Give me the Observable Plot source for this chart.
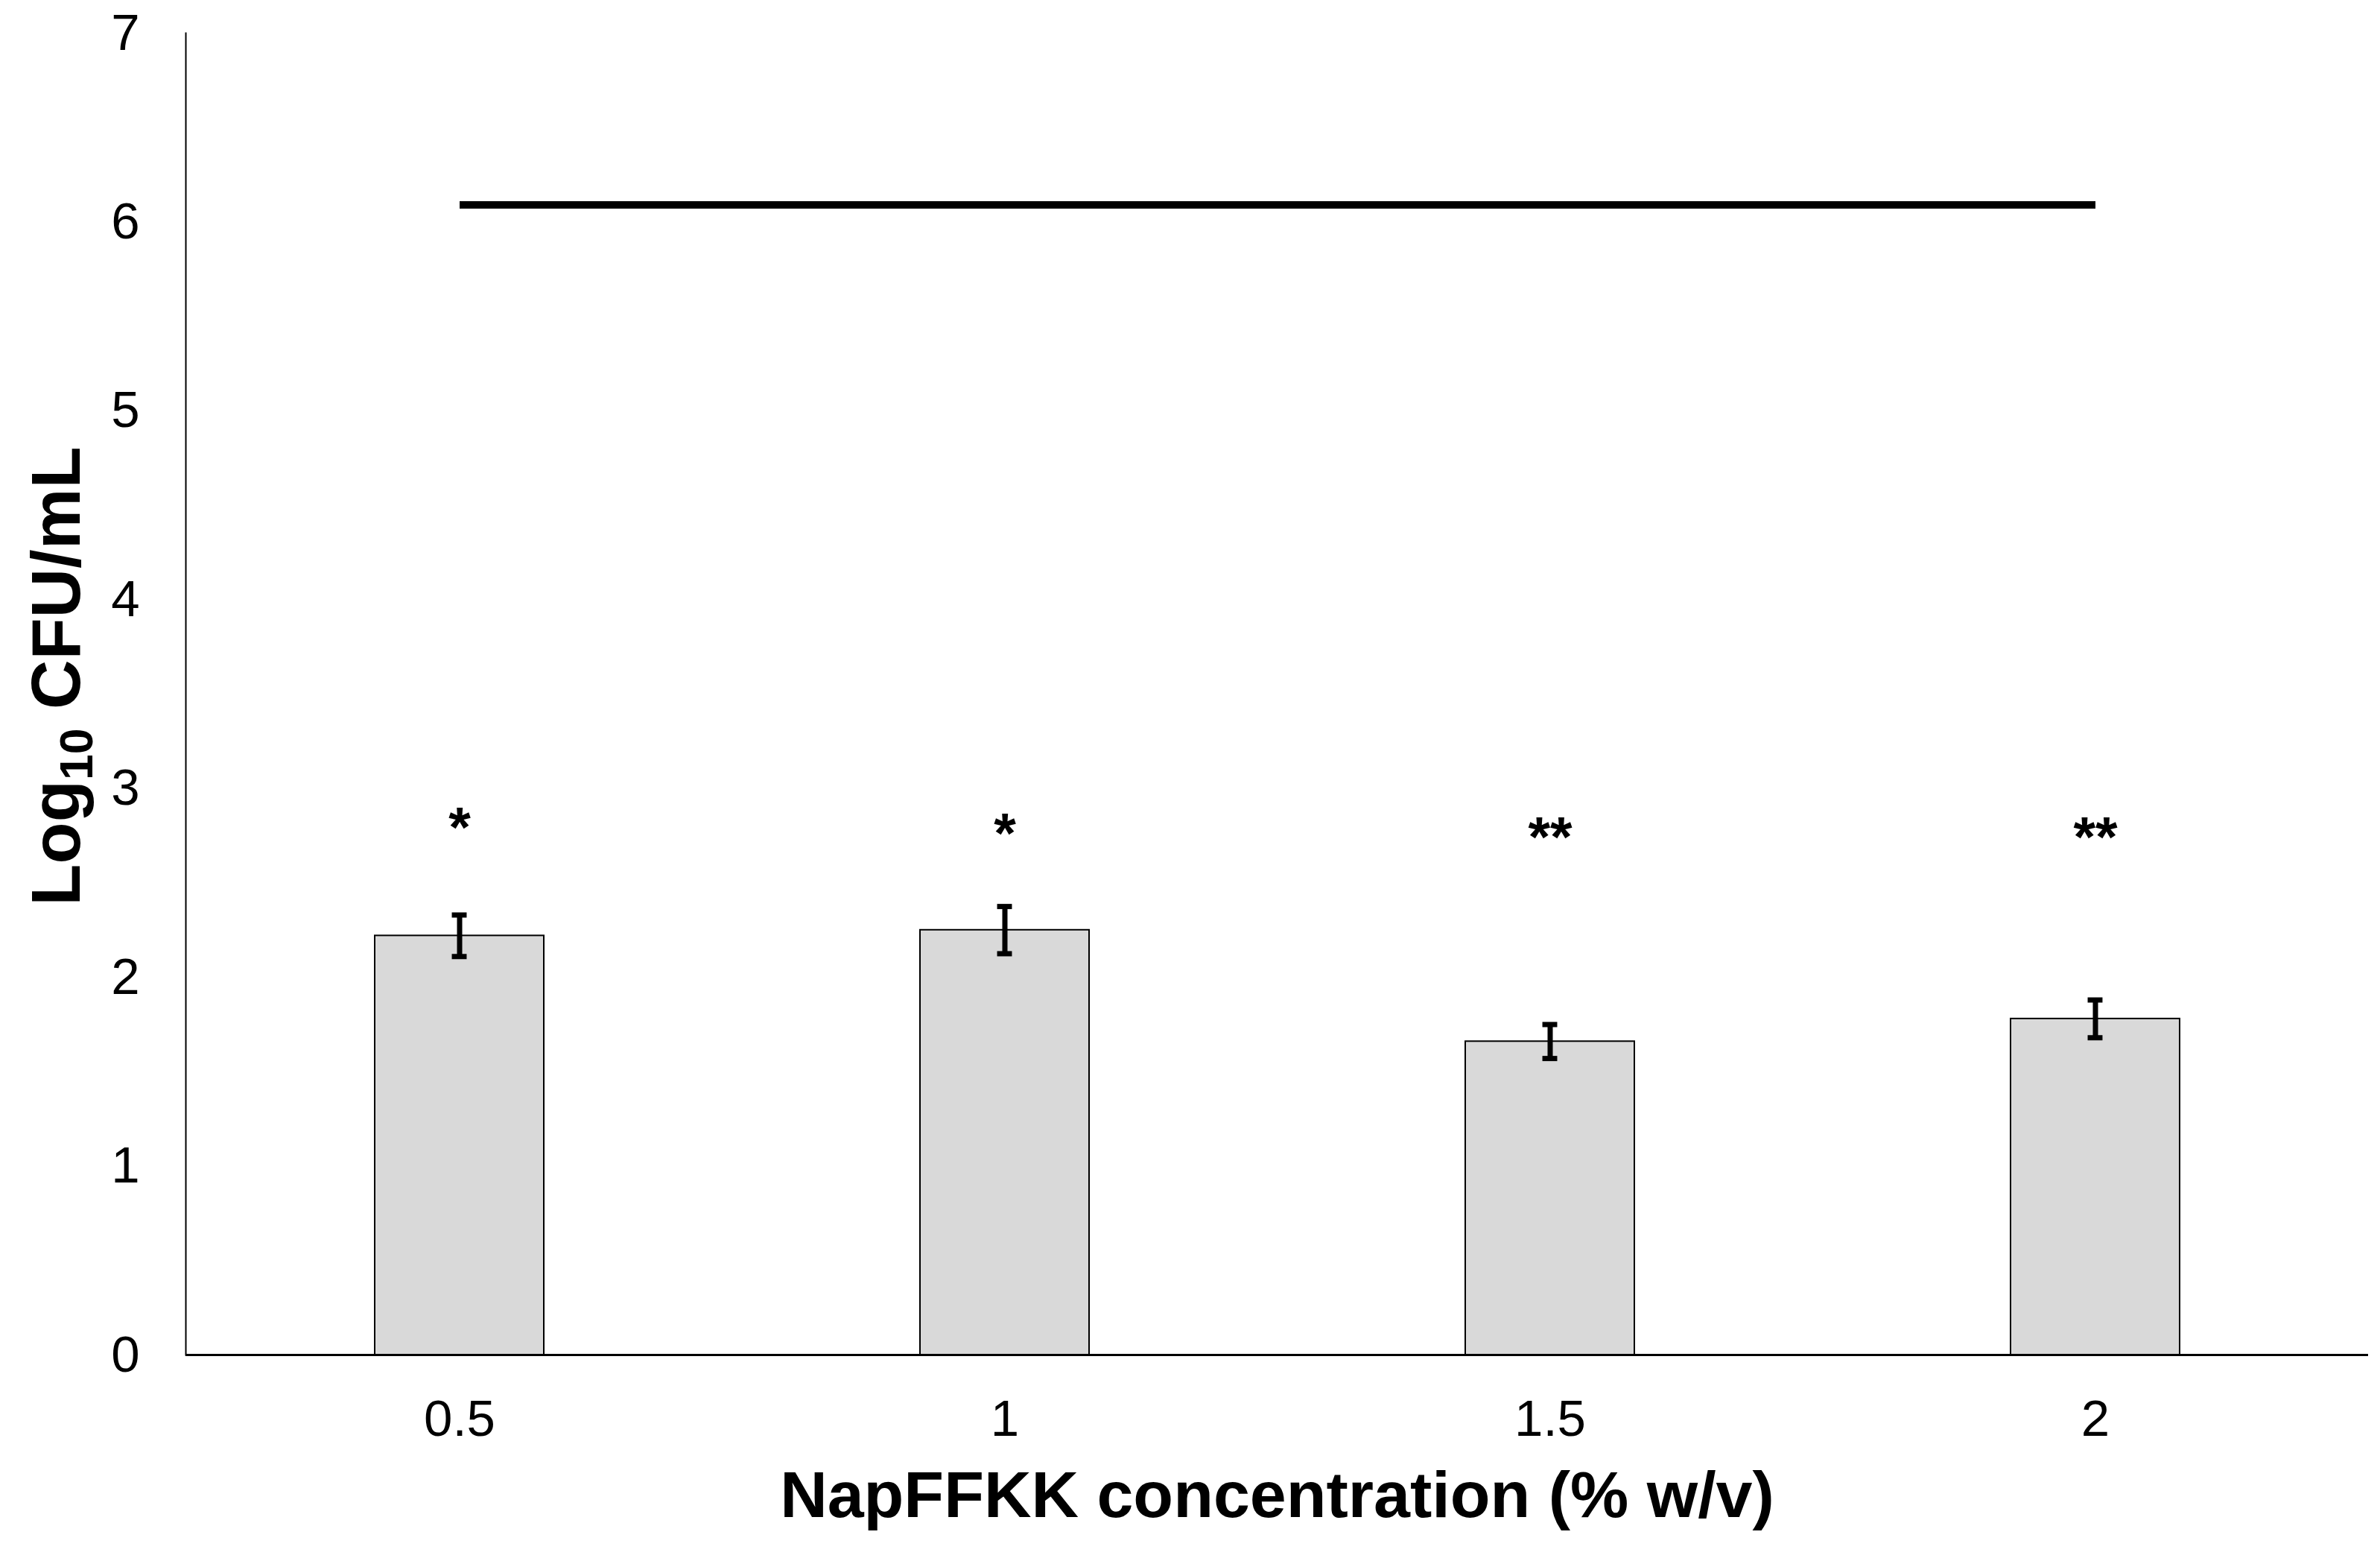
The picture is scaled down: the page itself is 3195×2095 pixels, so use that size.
<!DOCTYPE html>
<html><head><meta charset="utf-8">
<script src="https://cdn.jsdelivr.net/npm/d3@7"></script>
<script src="https://cdn.jsdelivr.net/npm/@observablehq/plot@0.6"></script>
<style>html,body{margin:0;padding:0;background:#fff;overflow:hidden}</style>
</head><body><div id="chart"></div>
<script>
const concentrations = ["0.5", "1", "1.5", "2"];
const meanLogCfu = [2.22, 2.25, 1.66, 1.78];
const errLogCfu = [0.11, 0.125, 0.09, 0.10];
const significance = ["*", "*", "**", "**"];
const starHeights = [2.84, 2.81, 2.79, 2.79];
const controlLevel = 6.09;
const yTicks = [0, 1, 2, 3, 4, 5, 6, 7];
const xTitle = "NapFFKK concentration (% w/v)";
const yTitle = "Log10 CFU/mL";

const rows = concentrations.map((c, i) => ({
  c, v: meanLogCfu[i],
  lo: meanLogCfu[i] - errLogCfu[i], hi: meanLogCfu[i] + errLogCfu[i],
  star: significance[i], sy: starHeights[i]
}));
const control = [
  {c: concentrations[0], v: controlLevel},
  {c: concentrations[concentrations.length - 1], v: controlLevel}
];

const W = 3195, H = 2095, mL = 249, mR = 16, mT = 44, mB = 277;
const padIn = 0.69, padOut = 0.345;
const step = (W - mL - mR) / (concentrations.length - padIn + 2 * padOut);
const bw = step * (1 - padIn);
const capW = 20;
const capInset = (bw - capW) / 2;

const chart = Plot.plot({
  width: W, height: H,
  marginLeft: mL, marginRight: mR, marginTop: mT, marginBottom: mB,
  style: {fontFamily: "'Liberation Sans', Arial, sans-serif", background: "#fff", color: "#000", overflow: "visible"},
  x: {type: "band", domain: concentrations, paddingInner: padIn, paddingOuter: padOut},
  y: {domain: [0, 7]},
  marks: [
    Plot.barY(rows, {x: "c", y: "v", fill: "#d9d9d9", stroke: "#000", strokeWidth: 2}),
    Plot.ruleX(rows, {x: "c", y1: "lo", y2: "hi", stroke: "#000", strokeWidth: 7}),
    Plot.tickY(rows, {x: "c", y: "lo", stroke: "#000", strokeWidth: 7, insetLeft: capInset, insetRight: capInset}),
    Plot.tickY(rows, {x: "c", y: "hi", stroke: "#000", strokeWidth: 7, insetLeft: capInset, insetRight: capInset}),
    Plot.line(control, {x: "c", y: "v", stroke: "#000", strokeWidth: 10, strokeLinecap: "butt"}),
    Plot.text(rows, {x: "c", y: "sy", text: "star", fontSize: 76, fontWeight: "bold", dy: 13, fill: "#000"}),
    Plot.frame({anchor: "left", stroke: "#000", strokeWidth: 2}),
    Plot.ruleY([0], {stroke: "#000", strokeWidth: 3}),
    Plot.axisY({ticks: yTicks, tickSize: 0, tickPadding: 62, fontSize: 69, label: null, tickFormat: d => String(d)}),
    Plot.axisX({tickSize: 0, tickPadding: 59, fontSize: 69, label: null}),
    Plot.text([xTitle], {frameAnchor: "bottom", dy: 217, fontSize: 88, fontWeight: "bold", fill: "#000"}),
    Plot.text([yTitle], {frameAnchor: "left", textAnchor: "middle", rotate: -90, dx: -172, dy: -24, fontSize: 92, fontWeight: "bold", fill: "#000"})
  ]
});

d3.select(chart).selectAll("text").filter(function () { return this.textContent === yTitle; }).each(function () {
  const t = d3.select(this);
  t.text(null);
  t.append("tspan").text("Log");
  t.append("tspan").attr("font-size", "68%").attr("dy", "17").text("10");
  t.append("tspan").attr("dy", "-17").text(" CFU/mL");
});

document.getElementById("chart").appendChild(chart);
</script>
</body></html>
